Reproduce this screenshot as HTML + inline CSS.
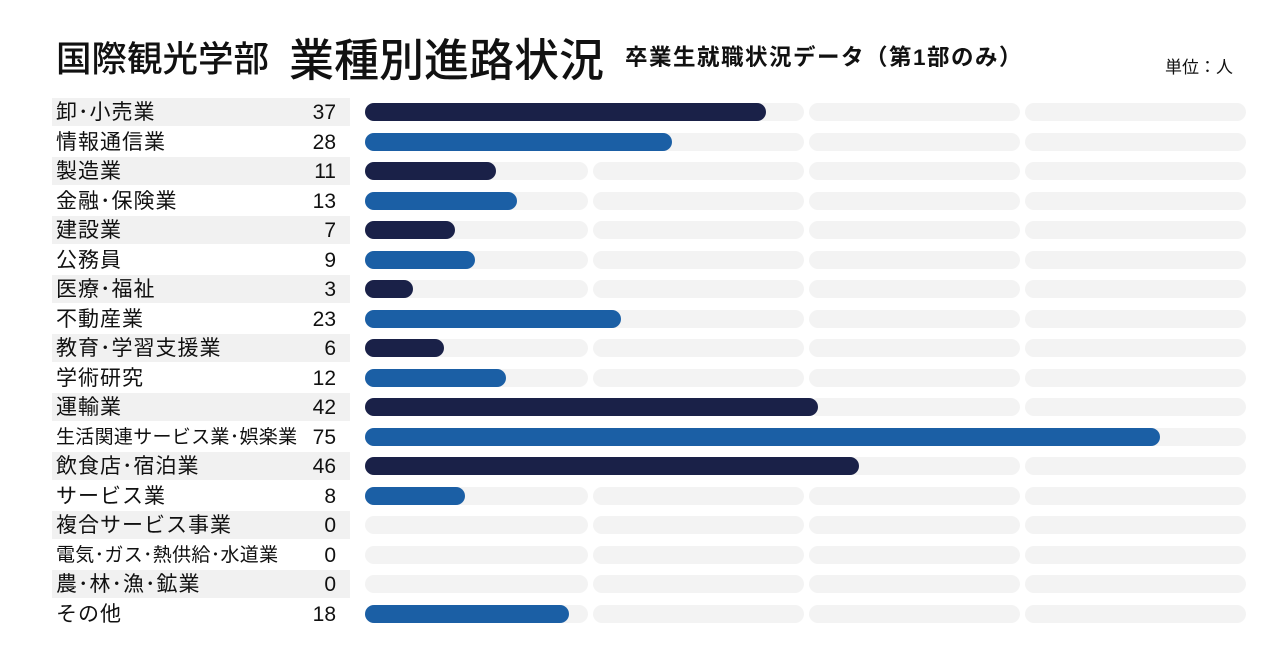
<!DOCTYPE html><html><head><meta charset="utf-8"><style>
body{margin:0;width:1280px;height:651px;background:#fff;font-family:"Liberation Sans","Noto Sans CJK JP",sans-serif;position:relative;overflow:hidden;color:#111}
.a{position:absolute;white-space:nowrap}
.lb{position:absolute;left:52px;width:298px;height:28px}
.lt{position:absolute;left:4px;top:1px;font-size:21px;line-height:28px;white-space:nowrap;letter-spacing:1px}
.nm{position:absolute;right:14px;top:1px;font-size:21px;line-height:28px;font-family:"Liberation Sans",sans-serif}
.tr{position:absolute;height:18px;border-radius:9px;background:#f3f3f3}
.br{position:absolute;left:365px;height:18px;border-radius:9px}
</style></head><body>
<div class="a" style="left:56px;top:31px;font-size:35.5px;font-weight:500">国際観光学部</div>
<div class="a" style="left:289px;top:24px;font-size:45px;font-weight:500">業種別進路状況</div>
<div class="a" style="left:625px;top:40px;font-size:22.5px;font-weight:bold;letter-spacing:1.5px">卒業生就職状況データ（第1部のみ）</div>
<div class="a" style="left:1165px;top:53px;font-size:17px">単位：人</div>
<div id="c"></div>
<script>
var d=[["卸･小売業",37],["情報通信業",28],["製造業",11],["金融･保険業",13],["建設業",7],["公務員",9],["医療･福祉",3],["不動産業",23],["教育･学習支援業",6],["学術研究",12],["運輸業",42],["生活関連サービス業･娯楽業",75],["飲食店･宿泊業",46],["サービス業",8],["複合サービス事業",0],["電気･ガス･熱供給･水道業",0],["農･林･漁･鉱業",0],["その他",18]];
var h="";
d.forEach(function(r,i){var cy=112+i*29.53;
h+='<div class="lb" style="top:'+(cy-14)+'px;background:'+(i%2==0?'#f1f1f1':'#fff')+'"><span class="lt"'+(r[0].length>10?' style="font-size:19px;letter-spacing:0.3px"':'')+'>'+r[0]+'</span><span class="nm">'+r[1]+'</span></div>';
[[365,588],[593,804],[809,1020],[1025,1246]].forEach(function(s){h+='<div class="tr" style="left:'+s[0]+'px;width:'+(s[1]-s[0])+'px;top:'+(cy-9)+'px"></div>'});
if(r[1]>0)h+='<div class="br" style="top:'+(cy-9)+'px;width:'+(17+r[1]*10.37)+'px;background:'+(i%2==0?'#1a2148':'#1b5fa5')+'"></div>';});
document.getElementById("c").innerHTML=h;
</script>
</body></html>
